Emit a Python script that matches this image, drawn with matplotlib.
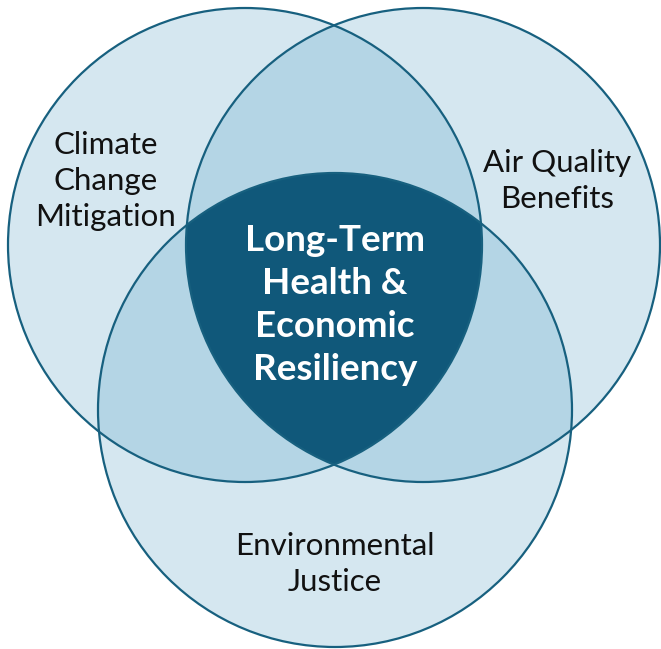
import numpy as np
import matplotlib.pyplot as plt
from matplotlib.patches import Circle, Polygon

# circle geometry in pixel units of the 661x649 canvas (y grows downward)
names = ["Climate Change Mitigation", "Air Quality Benefits", "Environmental Justice"]
centers_x = [245, 423, 335]
centers_y = [245, 245, 410]
radius = 237

# labels for each set and for the centre
label_text = ["Climate\nChange\nMitigation", "Air Quality\nBenefits", "Environmental\nJustice"]
label_x = [106, 557, 335]
label_y = [181, 181, 564]
center_text = "Long-Term\nHealth &\nEconomic\nResiliency"
center_xy = (335, 305)

light = "#d5e7f0"
medium = "#b4d5e5"
dark = "#10587a"
edge = "#17607f"

plt.rcParams["font.family"] = ["Lato", "DejaVu Sans"]

fig = plt.figure(figsize=(6.61, 6.49), dpi=100)
ax = fig.add_axes([0, 0, 1, 1])
ax.set_xlim(0, 661)
ax.set_ylim(649, 0)
ax.set_aspect("equal")
ax.axis("off")


def lens(i, j, n=200):
    # polygon of the overlap of circle i and circle j (equal radii)
    ax_, ay_ = centers_x[i], centers_y[i]
    bx_, by_ = centers_x[j], centers_y[j]
    d = np.hypot(bx_ - ax_, by_ - ay_)
    phi = np.arctan2(by_ - ay_, bx_ - ax_)
    alpha = np.arccos(d / (2 * radius))
    t1 = np.linspace(phi - alpha, phi + alpha, n)
    t2 = np.linspace(phi + np.pi - alpha, phi + np.pi + alpha, n)
    xs = np.concatenate([ax_ + radius * np.cos(t1), bx_ + radius * np.cos(t2)])
    ys = np.concatenate([ay_ + radius * np.sin(t1), by_ + radius * np.sin(t2)])
    return np.column_stack([xs, ys])


# single circles
for cx, cy in zip(centers_x, centers_y):
    ax.add_patch(Circle((cx, cy), radius, facecolor=light, edgecolor="none", zorder=1))

# pairwise overlaps
for i, j in [(0, 1), (0, 2), (1, 2)]:
    clip = Circle((centers_x[j], centers_y[j]), radius, transform=ax.transData)
    p = Circle((centers_x[i], centers_y[i]), radius, facecolor=medium, edgecolor="none", zorder=2)
    ax.add_patch(p)
    p.set_clip_path(clip)

# triple overlap
lens12 = Polygon(lens(0, 1), closed=True, transform=ax.transData)
core = Circle((centers_x[2], centers_y[2]), radius, facecolor=dark, edgecolor="none", zorder=3)
ax.add_patch(core)
core.set_clip_path(lens12)

# outlines
for cx, cy in zip(centers_x, centers_y):
    ax.add_patch(Circle((cx, cy), radius, facecolor="none", edgecolor=edge, lw=1.6, zorder=4))

for txt, x, y in zip(label_text, label_x, label_y):
    ax.text(x, y, txt, ha="center", va="center", fontsize=22.5, color="#111111",
            linespacing=1.36, zorder=5)

ax.text(center_xy[0], center_xy[1], center_text, ha="center", va="center",
        fontsize=26.5, fontweight="bold", color="white", linespacing=1.37, zorder=5)

fig.savefig("out.png", dpi=100)
